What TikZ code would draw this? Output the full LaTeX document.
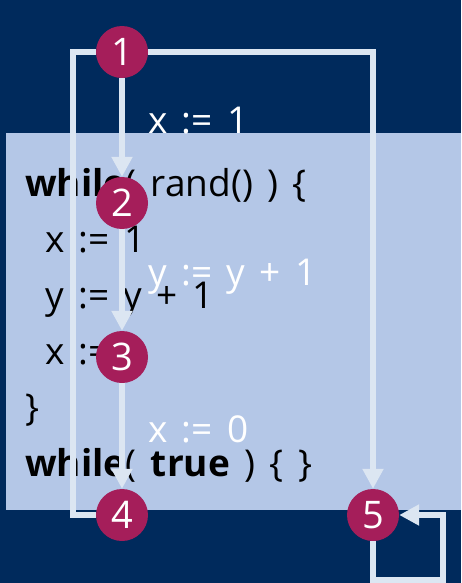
\documentclass[tikz,border=0pt]{standalone}
\usepackage{fontspec}
\setmainfont{Open Sans}[WordSpace=1.5]
\usepackage{xcolor}
\usetikzlibrary{arrows.meta}

\definecolor{navy}{HTML}{002A5C}
\definecolor{panel}{HTML}{B4C7E7}
\definecolor{edgecol}{HTML}{DCE6F2}
\definecolor{berry}{HTML}{A51E5A}

\begin{document}
\begin{tikzpicture}[
    x=1pt, y=-1pt,
    state/.style={circle, fill=berry, minimum size=52pt, inner sep=0pt, text=white, font=\fontsize{38}{38}\selectfont},
    code/.style={anchor=base west, inner sep=0pt, font=\fontsize{37}{48}\selectfont},
    edgelabel/.style={anchor=base west, inner sep=0pt, text=white, font=\fontsize{37}{48}\selectfont},
    line/.style={draw=edgecol, line width=6pt},
    arrow/.style={line, -{Triangle[length=20pt,width=20pt]}}
]

% Background and code panel
\fill[navy] (0,0) rectangle (461,583);
\useasboundingbox (0,0) rectangle (461,583);
\fill[panel] (6,133) rectangle (461,510);

% Code
\node[code] (c1) at (25,196) {\textbf{while}( rand() ) \{};
\node[code] (c2) at (45,252) {x := 1};
\node[code] (c3) at (45,308) {y := y + 1};
\node[code] (c4) at (45,364) {x := 0};
\node[code] (c5) at (25,420) {\}};
\node[code] (c6) at (25,476) {\textbf{while}( \textbf{true} ) \{ \}};

% States
\node[state] (s1) at (122,52) {1};
\node[state] (s2) at (122,203) {2};
\node[state] (s3) at (122,357) {3};
\node[state] (s4) at (122,515) {4};
\node[state] (s5) at (373,515) {5};

% Arrows
\coordinate (lefttop) at (73,52);
\coordinate (loopcorner) at (443,580);
\draw[arrow] (s1) -- (s2);
\draw[arrow] (s2) -- (s3);
\draw[arrow] (s3) -- (s4);
\draw[line] (s4.west) -| (lefttop) -- (s1.west);
\draw[arrow] (s1) -| (s5);
\draw[arrow] (s5.south) |- (loopcorner) |- (s5.east);

% Edge labels
\node[edgelabel] (l12) at (148,133) {x := 1};
\node[edgelabel] (l23) at (148,285) {y := y + 1};
\node[edgelabel] (l34) at (148,442) {x := 0};

\end{tikzpicture}
\end{document}
